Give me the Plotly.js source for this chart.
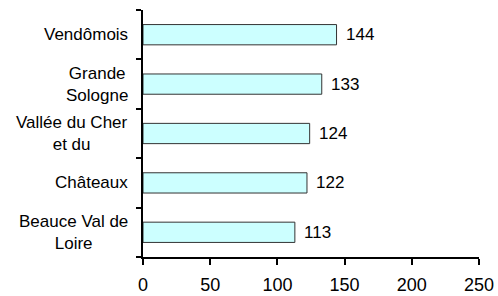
<!DOCTYPE html>
<html>
<head>
<meta charset="utf-8">
<script src="https://cdn.plot.ly/plotly-3.0.1.min.js"></script>
<style>html,body{margin:0;padding:0;background:#fff}#chart{width:498px;height:296px}</style>
</head>
<body>
<div id="chart"></div>
<script>
const categories = ["Beauce Val de<br>Loire", "Châteaux", "Vallée du Cher<br>et du", "Grande<br>Sologne", "Vendômois"];
const values = [113, 122, 124, 133, 144];
const xTicks = [0, 50, 100, 150, 200, 250];

const FONT = "Liberation Sans, Arial, sans-serif";

const trace = {
  type: "bar",
  orientation: "h",
  y: categories,
  x: values,
  marker: {color: "#ccffff", line: {color: "#333", width: 1}},
  width: 0.41,
  hoverinfo: "skip"
};

const catLabels = categories.map(c => ({
  xref: "paper", yref: "y", x: 0, y: c,
  xanchor: "right", yanchor: "middle", align: "center",
  xshift: -13, text: c, showarrow: false,
  font: {family: FONT, size: 17, color: "#000"}
}));

const valueLabels = values.map((v, i) => ({
  xref: "x", yref: "y", x: v, y: categories[i],
  xanchor: "left", yanchor: "middle",
  xshift: 7, text: String(v), showarrow: false,
  font: {family: FONT, size: 17, color: "#000"}
}));

const layout = {
  width: 498, height: 296,
  margin: {l: 143, r: 19, t: 10, b: 39},
  paper_bgcolor: "#fff", plot_bgcolor: "#fff",
  showlegend: false,
  font: {family: FONT, color: "#000"},
  xaxis: {
    range: [0, 250], tickvals: xTicks, ticktext: xTicks.map(String),
    showgrid: false, zeroline: false, showline: true, linecolor: "#000", linewidth: 2,
    ticks: "outside", ticklen: 6, tickwidth: 2, tickcolor: "#000",
    tickfont: {size: 18}, ticklabelstandoff: 4
  },
  yaxis: {
    type: "category", categoryorder: "array", categoryarray: categories,
    range: [-0.5, 4.5], tickson: "boundaries",
    showticklabels: false, showgrid: false, zeroline: false,
    showline: true, linecolor: "#000", linewidth: 2,
    ticks: "outside", ticklen: 5, tickwidth: 2, tickcolor: "#000"
  },
  annotations: catLabels.concat(valueLabels)
};

Plotly.newPlot("chart", [trace], layout, {displayModeBar: false, staticPlot: true});
</script>
</body>
</html>
